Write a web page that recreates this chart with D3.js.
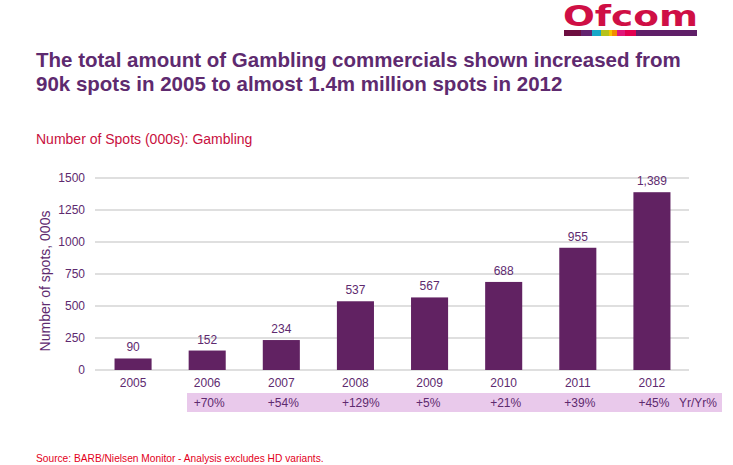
<!DOCTYPE html>
<html>
<head>
<meta charset="utf-8">
<script src="https://d3js.org/d3.v7.min.js"></script>
<style>
  body { margin: 0; background: #fff; }
  svg { display: block; font-family: "Liberation Sans", Arial, sans-serif; }
</style>
</head>
<body>
<div id="chart"></div>
<script>
// chart data
var years = ["2005", "2006", "2007", "2008", "2009", "2010", "2011", "2012"];
var spots = [90, 152, 234, 537, 567, 688, 955, 1389];
var growthYears = ["2006", "2007", "2008", "2009", "2010", "2011", "2012"];
var growth = ["+70%", "+54%", "+129%", "+5%", "+21%", "+39%", "+45%"];
var yTicks = [0, 250, 500, 750, 1000, 1250, 1500];
var stripeColours = ["#6d0e40", "#63236f", "#18a8c8", "#b7c21c", "#f5c400", "#f28c00", "#e0177a", "#e2004f", "#5f1f68"];
var stripeWidths = [17, 11, 9, 8, 3, 5, 8, 11, 61];

var w = 733;
var h = 465;

var purple = "#5e2a6f";
var barColour = "#612262";

var svg = d3.select("#chart")
  .append("svg")
  .attr("width", w)
  .attr("height", h);

// scales
var xScale = d3.scaleBand()
  .domain(years)
  .range([96, 689])
  .paddingInner(0.5)
  .paddingOuter(0.25);

var yScale = d3.scaleLinear()
  .domain([0, 1500])
  .range([370, 178]);

// Ofcom logo
svg.append("text")
  .attr("x", 563)
  .attr("y", 26)
  .attr("textLength", 135)
  .attr("lengthAdjust", "spacingAndGlyphs")
  .attr("font-family", "DejaVu Sans")
  .attr("font-weight", "bold")
  .style("font-size", "28px")
  .style("fill", "#cf0f45")
  .text("Ofcom");

var sx = 564;
stripeColours.forEach(function(c, i) {
  svg.append("rect")
    .attr("x", sx)
    .attr("y", 30)
    .attr("width", stripeWidths[i])
    .attr("height", 6)
    .attr("fill", c);
  sx += stripeWidths[i];
});

// title
svg.append("text")
  .attr("x", 36)
  .attr("y", 67)
  .attr("font-weight", "bold")
  .style("font-size", "20.5px")
  .style("fill", purple)
  .text("The total amount of Gambling commercials shown increased from");

svg.append("text")
  .attr("x", 36)
  .attr("y", 91)
  .attr("font-weight", "bold")
  .style("font-size", "20.5px")
  .style("fill", purple)
  .text("90k spots in 2005 to almost 1.4m million spots in 2012");

svg.append("text")
  .attr("x", 36)
  .attr("y", 144)
  .style("font-size", "14px")
  .style("fill", "#c8103e")
  .text("Number of Spots (000s): Gambling");

// gridlines
svg.append("g")
  .selectAll("line")
  .data(yTicks)
  .enter()
  .append("line")
  .attr("x1", 95)
  .attr("x2", 689)
  .attr("y1", function(d) { return yScale(d); })
  .attr("y2", function(d) { return yScale(d); })
  .attr("stroke", "#d4d4d4")
  .attr("stroke-width", 1.5);

// y axis labels
var yAxis = svg.append("g")
  .attr("transform", "translate(96,0)")
  .call(d3.axisLeft(yScale).tickValues(yTicks).tickSize(0).tickPadding(11).tickFormat(d3.format("d")));
yAxis.select(".domain").remove();
yAxis.selectAll("text")
  .style("font-size", "12px")
  .style("font-family", "Liberation Sans, Arial, sans-serif")
  .style("fill", purple);

// y axis title
svg.append("text")
  .attr("transform", "rotate(-90)")
  .attr("x", -281)
  .attr("y", 50)
  .attr("text-anchor", "middle")
  .style("font-size", "14px")
  .style("fill", purple)
  .text("Number of spots, 000s");

// bars
svg.selectAll(".bar")
  .data(spots)
  .enter()
  .append("rect")
  .attr("class", "bar")
  .attr("x", function(d, i) { return xScale(years[i]); })
  .attr("y", function(d) { return yScale(d); })
  .attr("width", xScale.bandwidth())
  .attr("height", function(d) { return yScale(0) - yScale(d); })
  .attr("fill", barColour);

// value labels
svg.selectAll(".bar-label")
  .data(spots)
  .enter()
  .append("text")
  .attr("class", "bar-label")
  .attr("x", function(d, i) { return xScale(years[i]) + xScale.bandwidth() / 2; })
  .attr("y", function(d) { return yScale(d) - 7; })
  .attr("text-anchor", "middle")
  .style("font-size", "12px")
  .style("fill", purple)
  .text(function(d) { return d3.format(",")(d); });

// x axis
var xAxis = svg.append("g")
  .attr("transform", "translate(0,370)")
  .call(d3.axisBottom(xScale).tickSize(0).tickPadding(8));
xAxis.select(".domain").remove();
xAxis.selectAll("text")
  .style("font-size", "12px")
  .style("font-family", "Liberation Sans, Arial, sans-serif")
  .style("fill", purple);

// growth band
svg.append("rect")
  .attr("x", 187)
  .attr("y", 393)
  .attr("width", 535)
  .attr("height", 19)
  .attr("fill", "#e9c9eb");

svg.selectAll(".growth")
  .data(growth)
  .enter()
  .append("text")
  .attr("class", "growth")
  .attr("x", function(d, i) { return xScale(growthYears[i]) + 5; })
  .attr("y", 407)
  .style("font-size", "12px")
  .style("fill", purple)
  .text(function(d) { return d; });

svg.append("text")
  .attr("x", 679)
  .attr("y", 407)
  .style("font-size", "12px")
  .style("fill", purple)
  .text("Yr/Yr%");

// source
svg.append("text")
  .attr("x", 36)
  .attr("y", 462)
  .style("font-size", "10.2px")
  .style("fill", "#e3001b")
  .text("Source: BARB/Nielsen Monitor - Analysis excludes HD variants.");
</script>
</body>
</html>
